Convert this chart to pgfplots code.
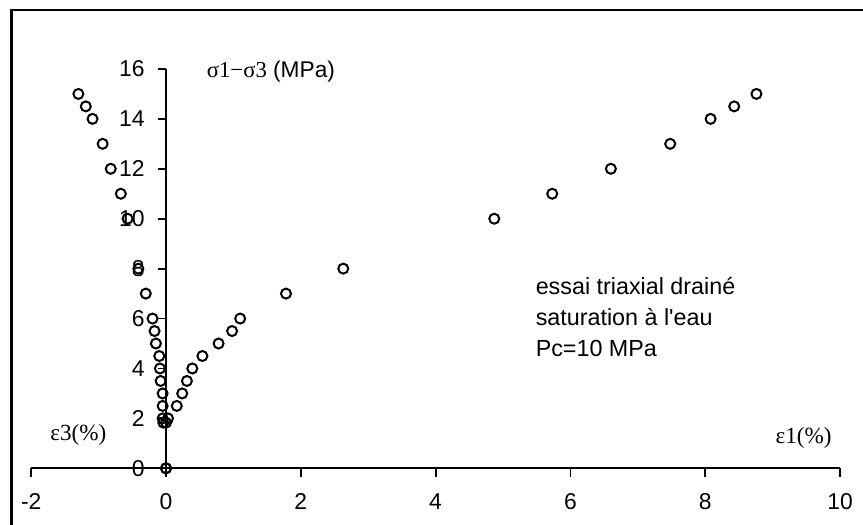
\documentclass[border=0pt]{standalone}
\usepackage{fontspec}
\setmainfont{Liberation Sans}
\newfontfamily\serif{Liberation Serif}
\usepackage{pgfplots}
\pgfplotsset{compat=1.18}

% axial strain branch (eps1, q)
\pgfplotstableread{
x y
0 0
0 1.83
0.03 2
0.16 2.5
0.24 3
0.31 3.5
0.39 4
0.54 4.5
0.78 5
0.98 5.5
1.10 6
1.78 7
2.63 8
4.87 10
5.73 11
6.60 12
7.48 13
8.08 14
8.43 14.5
8.76 15
}\epsone
% lateral strain branch (eps3, q)
\pgfplotstableread{
x y
0 0
-0.04 1.83
-0.05 2
-0.05 2.5
-0.05 3
-0.08 3.5
-0.09 4
-0.10 4.5
-0.15 5
-0.17 5.5
-0.20 6
-0.30 7
-0.41 8
-0.57 10
-0.67 11
-0.82 12
-0.94 13
-1.09 14
-1.19 14.5
-1.30 15
}\epsthree

\begin{document}
\begin{tikzpicture}
\begin{axis}[
  x=33.7bp, y=12.48bp,
  xmin=-2, xmax=10, ymin=0, ymax=16,
  axis x line=bottom, axis y line=middle,
  axis line style={line width=0.9bp, -},
  xtick={-2,0,...,10}, ytick={0,2,...,16},
  hide obscured x ticks=false, hide obscured y ticks=false,
  tick align=outside,
  major tick length=4.2bp,
  tick style={line width=0.9bp, black},
  tick label style={font=\fontsize{11.5}{13}\selectfont},
  /pgf/number format/assume math mode=true,
  xticklabel style={yshift=-5bp},
  yticklabel style={xshift=-3bp},
  clip=false,
]
\addplot[only marks, mark=o, mark size=2.5bp, mark options={line width=1bp, black}] table {\epsone};
\addplot[only marks, mark=o, mark size=2.5bp, mark options={line width=1bp, black}] table {\epsthree};

\node[anchor=west, inner sep=0pt, font=\fontsize{11.4}{13}\selectfont] at (axis cs:0.60,15.9) {{\serif σ1−σ3} (MPa)};
\node[anchor=west, inner sep=0pt, font=\serif\fontsize{11.6}{13}\selectfont] at (axis cs:-1.72,1.35) {ε3(\%)};
\node[anchor=east, inner sep=0pt, font=\serif\fontsize{11.6}{13}\selectfont] at (axis cs:9.88,1.21) {ε1(\%)};
\node[anchor=west, inner sep=0pt, align=left, font=\fontsize{11.7}{15.6}\selectfont] at (axis cs:5.48,6.05)
  {essai triaxial drainé\\saturation à l\textquotesingle eau\\Pc=10 MPa};

% picture extent and outer frame
\coordinate (bl) at (axis cs:-2.463,-2.232);
\coordinate (tr) at (axis cs:10.341,18.762);
\draw[line width=1.4bp, line cap=rect] (axis cs:-2.289,-2.232) -- (axis cs:-2.289,18.362) -- (axis cs:10.341,18.362);
\end{axis}
\pgfresetboundingbox
\path[use as bounding box] (bl) rectangle (tr);
\end{tikzpicture}
\end{document}
